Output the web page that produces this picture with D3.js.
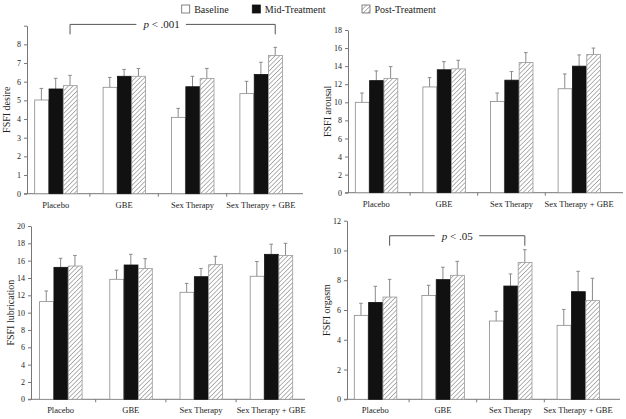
<!DOCTYPE html>
<html><head><meta charset="utf-8">
<script src="https://cdn.jsdelivr.net/npm/d3@7/dist/d3.min.js"></script>
<style>
html,body{margin:0;padding:0;background:#fff;}
svg{display:block;font-family:"Liberation Serif","Times New Roman",serif;}
</style></head>
<body>
<svg id="chart" width="626" height="419"></svg>
<script>
// ---------------- DATA ----------------
const categories = ["Placebo", "GBE", "Sex Therapy", "Sex Therapy + GBE"];
const seriesNames = ["Baseline", "Mid-Treatment", "Post-Treatment"];

// FSFI desire
const desireBaseline = [5.02, 5.70, 4.09, 5.36];
const desireMid      = [5.61, 6.29, 5.73, 6.39];
const desirePost     = [5.79, 6.29, 6.18, 7.41];
const desireErrBaseline = [0.62, 0.53, 0.48, 0.66];
const desireErrMid      = [0.57, 0.37, 0.56, 0.65];
const desireErrPost     = [0.55, 0.42, 0.53, 0.43];
const desireTicks = [0, 1, 2, 3, 4, 5, 6, 7, 8, 9];
const desireTickLabels = ["0", "1", "2", "3", "4", "5", "6", "7", "8", ""];

// FSFI arousal
const arousalBaseline = [10.0, 11.7, 10.1, 11.5];
const arousalMid      = [12.4, 13.6, 12.45, 14.0];
const arousalPost     = [12.65, 13.7, 14.4, 15.3];
const arousalErrBaseline = [1.03, 1.03, 0.93, 1.64];
const arousalErrMid      = [1.07, 0.90, 0.95, 1.24];
const arousalErrPost     = [1.30, 0.95, 1.10, 0.70];
const arousalTicks = [0, 2, 4, 6, 8, 10, 12, 14, 16, 18];
const arousalTickLabels = ["0", "2", "4", "6", "8", "10", "12", "14", "16", "18"];

// FSFI lubrication
const lubricationBaseline = [11.27, 13.85, 12.35, 14.2];
const lubricationMid      = [15.23, 15.5, 14.15, 16.73];
const lubricationPost     = [15.38, 15.1, 15.54, 16.6];
const lubricationErrBaseline = [1.23, 1.05, 1.03, 1.70];
const lubricationErrMid      = [1.04, 1.23, 0.95, 1.17];
const lubricationErrPost     = [1.22, 1.13, 0.96, 1.40];
const lubricationTicks = [0, 2, 4, 6, 8, 10, 12, 14, 16, 18, 20];
const lubricationTickLabels = ["0", "2", "4", "6", "8", "10", "12", "14", "16", "18", "20"];

// FSFI orgasm
const orgasmBaseline = [5.64, 6.98, 5.26, 4.97];
const orgasmMid      = [6.51, 8.04, 7.61, 7.23];
const orgasmPost     = [6.87, 8.33, 9.2, 6.63];
const orgasmErrBaseline = [0.81, 0.68, 0.65, 1.07];
const orgasmErrMid      = [1.08, 0.83, 0.81, 1.37];
const orgasmErrPost     = [1.19, 0.94, 0.85, 1.50];
const orgasmTicks = [0, 2, 4, 6, 8, 10, 12];
const orgasmTickLabels = ["0", "2", "4", "6", "8", "10", "12"];

// Significance annotations: [from category, to category, label, value level]
const desireSig = ["Placebo", "Sex Therapy + GBE", ".001", 9.07];
const orgasmSig = ["Placebo", "Sex Therapy", ".05", 10.99];

// ---------------- LAYOUT ----------------
const svg = d3.select("#chart");
const textColor = "#222";
const axisColor = "#777";
const barStroke = "#8a8a8a";

const defs = svg.append("defs");
const pat = defs.append("pattern")
  .attr("id", "hatch").attr("patternUnits", "userSpaceOnUse")
  .attr("width", 3.2).attr("height", 3.2)
  .attr("patternTransform", "rotate(45)");
pat.append("rect").attr("width", 3.2).attr("height", 3.2).attr("fill", "#fff");
pat.append("line").attr("x1", 0).attr("y1", 0).attr("x2", 0).attr("y2", 3.2)
  .attr("stroke", "#8c8c8c").attr("stroke-width", 1.3);

const fills = ["#ffffff", "#111111", "url(#hatch)"];
const strokes = [barStroke, "#111111", "#9a9a9a"];

const panels = [
  { label: "FSFI desire", means: [desireBaseline, desireMid, desirePost],
    errs: [desireErrBaseline, desireErrMid, desireErrPost],
    ticks: desireTicks, tickLabels: desireTickLabels, max: 9,
    axisX: 27, xEnd: 303, y0: 193.7, yTop: 25.7, step: 68.4, sig: desireSig, sigShift: -11 },
  { label: "FSFI arousal", means: [arousalBaseline, arousalMid, arousalPost],
    errs: [arousalErrBaseline, arousalErrMid, arousalErrPost],
    ticks: arousalTicks, tickLabels: arousalTickLabels, max: 18,
    axisX: 348, xEnd: 623, y0: 192.7, yTop: 30, step: 67.6 },
  { label: "FSFI lubrication", means: [lubricationBaseline, lubricationMid, lubricationPost],
    errs: [lubricationErrBaseline, lubricationErrMid, lubricationErrPost],
    ticks: lubricationTicks, tickLabels: lubricationTickLabels, max: 20,
    axisX: 31, xEnd: 305, y0: 399.3, yTop: 226, step: 70.2 },
  { label: "FSFI orgasm", means: [orgasmBaseline, orgasmMid, orgasmPost],
    errs: [orgasmErrBaseline, orgasmErrMid, orgasmErrPost],
    ticks: orgasmTicks, tickLabels: orgasmTickLabels, max: 12,
    axisX: 347, xEnd: 620, y0: 399.3, yTop: 220.7, step: 67.6, sig: orgasmSig, sigShift: 0 }
];

const clusterW = 43;

panels.forEach(p => {
  const g = svg.append("g");
  const start = p.axisX - 5.5;
  const x = d3.scaleBand().domain(categories).range([start, start + 4 * p.step]).padding(0);
  const xs = d3.scaleBand().domain(seriesNames)
    .range([(p.step - clusterW) / 2, (p.step + clusterW) / 2]).padding(0);
  const y = d3.scaleLinear().domain([0, p.max]).range([p.y0, p.yTop]);

  // y axis
  const yAxis = d3.axisLeft(y).tickValues(p.ticks).tickSize(3).tickSizeOuter(0)
    .tickFormat((d, i) => p.tickLabels[i]);
  const ya = g.append("g").attr("transform", `translate(${p.axisX},0)`).call(yAxis);
  ya.select(".domain").attr("stroke", axisColor);
  ya.selectAll(".tick line").attr("stroke", axisColor);
  ya.selectAll(".tick text").attr("fill", textColor).attr("font-size", 8)
    .attr("font-family", "Liberation Serif, serif").attr("x", -6);

  // x axis line
  g.append("line").attr("x1", p.axisX - 3).attr("x2", p.xEnd)
    .attr("y1", y(0)).attr("y2", y(0)).attr("stroke", axisColor);
  // boundary ticks
  g.selectAll(".xt").data(categories.slice(1)).join("line")
    .attr("x1", d => x(d)).attr("x2", d => x(d))
    .attr("y1", y(0)).attr("y2", y(0) + 3).attr("stroke", axisColor);
  // category labels
  g.selectAll(".xl").data(categories).join("text")
    .attr("x", d => x(d) + x.bandwidth() / 2).attr("y", y(0) + 14)
    .attr("text-anchor", "middle").attr("font-size", 8.5).attr("fill", textColor)
    .text(d => d);

  // y label
  g.append("text")
    .attr("transform", `translate(${p.axisX - 17},${(p.y0 + p.yTop) / 2}) rotate(-90)`)
    .attr("text-anchor", "middle").attr("font-size", 10).attr("fill", textColor)
    .text(p.label);

  // bars
  seriesNames.forEach((s, si) => {
    const rows = categories.map((c, ci) => ({ c, v: p.means[si][ci], e: p.errs[si][ci] }));
    const eg = g.append("g").attr("stroke", "#8a8a8a").attr("stroke-width", 1);
    eg.selectAll("line.v").data(rows).join("line")
      .attr("x1", d => x(d.c) + xs(s) + xs.bandwidth() / 2)
      .attr("x2", d => x(d.c) + xs(s) + xs.bandwidth() / 2)
      .attr("y1", d => y(d.v)).attr("y2", d => y(d.v + d.e));
    eg.selectAll("line.h").data(rows).join("line")
      .attr("x1", d => x(d.c) + xs(s) + xs.bandwidth() / 2 - 1.8)
      .attr("x2", d => x(d.c) + xs(s) + xs.bandwidth() / 2 + 1.8)
      .attr("y1", d => y(d.v + d.e)).attr("y2", d => y(d.v + d.e));
    g.append("g").selectAll("rect").data(rows).join("rect")
      .attr("x", d => x(d.c) + xs(s) + 0.5)
      .attr("y", d => y(d.v))
      .attr("width", xs.bandwidth() - 0.5)
      .attr("height", d => y(0) - y(d.v))
      .attr("fill", fills[si]).attr("stroke", strokes[si]).attr("stroke-width", 0.8);
  });

  // significance bracket
  if (p.sig) {
    const [c1, c2, lbl, lev] = p.sig;
    const post = seriesNames[2];
    const xa = x(c1) + xs(post) + xs.bandwidth() / 2;
    const xb = x(c2) + xs(post) + xs.bandwidth() / 2;
    const yb = y(lev);
    const tx = (xa + xb) / 2 + p.sigShift;
    const sg = g.append("g");
    const t = sg.append("text").attr("x", tx).attr("y", yb + 4)
      .attr("text-anchor", "middle").attr("font-size", 11).attr("fill", textColor);
    t.append("tspan").attr("font-style", "italic").text("p");
    t.append("tspan").text(" < " + lbl);
    const bb = t.node().getBBox();
    const gap = 6;
    sg.append("path")
      .attr("d", `M${xa},${yb + 10}V${yb}H${bb.x - gap}M${bb.x + bb.width + gap},${yb}H${xb}V${yb + 10}`)
      .attr("fill", "none").attr("stroke", "#555").attr("stroke-width", 1);
  }
});

// legend
const legendX = [181.7, 252.3, 362];
const lg = svg.append("g");
seriesNames.forEach((s, i) => {
  lg.append("rect").attr("x", legendX[i]).attr("y", 5).attr("width", 8).attr("height", 8)
    .attr("fill", fills[i]).attr("stroke", i === 1 ? "#111" : "#666").attr("stroke-width", 0.8);
  lg.append("text").attr("x", legendX[i] + 12.5).attr("y", 12.5)
    .attr("font-size", 10).attr("fill", textColor).text(s);
});
</script>
</body></html>
